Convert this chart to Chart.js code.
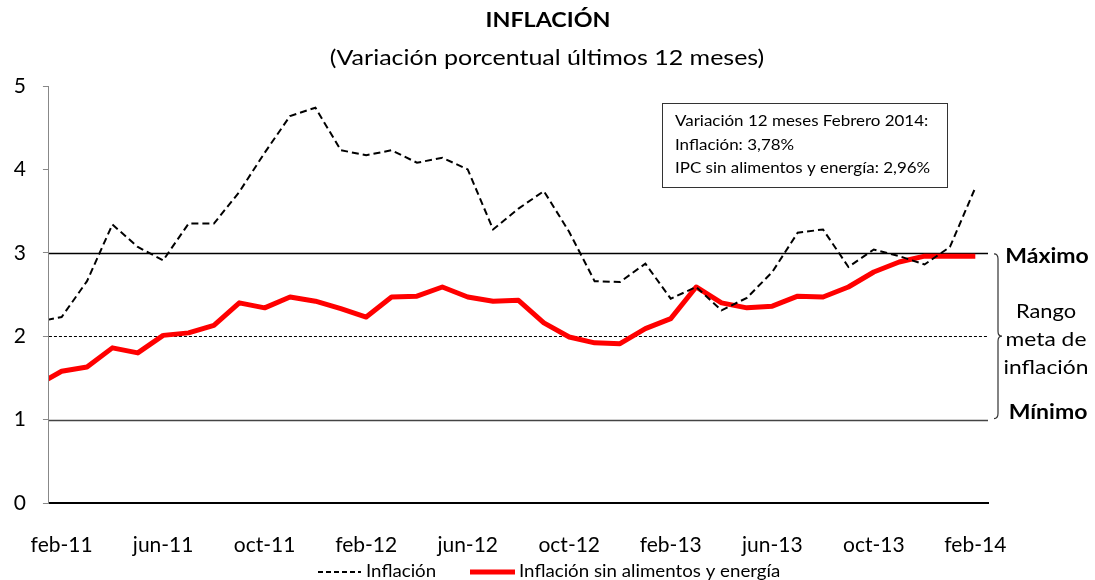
<!DOCTYPE html>
<html>
<head>
<meta charset="utf-8">
<script src="https://cdn.jsdelivr.net/npm/chart.js@4.4.1/dist/chart.umd.min.js"></script>
<style>
  html, body { margin: 0; padding: 0; background: #fff; }
  #wrap { position: relative; width: 1095px; height: 580px; }
</style>
</head>
<body>
<div id="wrap"><canvas id="c" width="1095" height="580"></canvas></div>
<script>
// Months (jan-11 is only partly visible at the left edge, as in the reference)
const months = ['jan-11','feb-11','mar-11','apr-11','may-11','jun-11','jul-11','aug-11','sep-11','oct-11','nov-11','dec-11',
  'jan-12','feb-12','mar-12','apr-12','may-12','jun-12','jul-12','aug-12','sep-12','oct-12','nov-12','dec-12',
  'jan-13','feb-13','mar-13','apr-13','may-13','jun-13','jul-13','aug-13','sep-13','oct-13','nov-13','dec-13',
  'jan-14','feb-14'];
const tickLabels = ['feb-11','jun-11','oct-11','feb-12','jun-12','oct-12','feb-13','jun-13','oct-13','feb-14'];
const inflacion = [2.17, 2.23, 2.66, 3.34, 3.07, 2.91, 3.35, 3.35, 3.73, 4.20, 4.64, 4.74,
  4.23, 4.17, 4.23, 4.08, 4.14, 4.00, 3.28, 3.53, 3.74, 3.25, 2.66, 2.65,
  2.87, 2.45, 2.59, 2.31, 2.46, 2.77, 3.24, 3.28, 2.83, 3.04, 2.96, 2.86,
  3.07, 3.78];
const inflacionSAE = [1.41, 1.58, 1.63, 1.86, 1.80, 2.01, 2.04, 2.13, 2.40, 2.34, 2.47, 2.42,
  2.33, 2.23, 2.47, 2.48, 2.59, 2.47, 2.42, 2.43, 2.16, 1.99, 1.92, 1.91,
  2.09, 2.21, 2.59, 2.40, 2.34, 2.36, 2.48, 2.47, 2.59, 2.77, 2.89, 2.96,
  2.96, 2.96];
const rangoMeta = { minimo: 1, centro: 2, maximo: 3 };
const yTicks = [0, 1, 2, 3, 4, 5];
const seriesNames = ['Inflación', 'Inflación sin alimentos y energía'];
const titleText = 'INFLACIÓN';
const subtitleText = '(Variación porcentual últimos 12 meses)';
const boxLines = ['Variación 12 meses Febrero 2014:', 'Inflación: 3,78%', 'IPC sin alimentos y energía: 2,96%'];
const rangeLabels = ['Máximo', 'Rango', 'meta de', 'inflación', 'Mínimo'];

const FONT = 'Lato, "Open Sans", sans-serif';
const firstIdx = months.indexOf('feb-11');
const toXY = arr => arr.map((v, i) => ({ x: i - firstIdx, y: v }));

// text drawn with a slight horizontal stretch (reference font is wider)
function txt(ctx, s, x, y, font, stretch, align) {
  ctx.save();
  ctx.font = font;
  ctx.textAlign = align || 'center';
  ctx.textBaseline = 'middle';
  ctx.translate(x, y);
  ctx.scale(stretch, 1);
  ctx.fillText(s, 0, 0);
  ctx.restore();
}

const decorPlugin = {
  id: 'decor',
  beforeDatasetsDraw(chart) {
    const { ctx, chartArea: a, scales: { y } } = chart;
    ctx.save();
    const lines = [
      { v: rangoMeta.maximo, color: '#000', w: 1.3, dash: [] },
      { v: rangoMeta.centro, color: '#000', w: 1, dash: [3, 2] },
      { v: rangoMeta.minimo, color: '#444', w: 1.5, dash: [] }
    ];
    lines.forEach(l => {
      const py = Math.round(y.getPixelForValue(l.v)) + 0.5;
      ctx.beginPath();
      ctx.setLineDash(l.dash);
      ctx.strokeStyle = l.color;
      ctx.lineWidth = l.w;
      ctx.moveTo(a.left, py);
      ctx.lineTo(a.right, py);
      ctx.stroke();
    });
    ctx.restore();
  },
  afterDraw(chart) {
    const { ctx, scales: { y } } = chart;
    ctx.save();
    ctx.fillStyle = '#000';
    // titles
    txt(ctx, titleText, 548, 20, 'bold 21px ' + FONT, 1.11);
    txt(ctx, subtitleText, 547, 58, '21px ' + FONT, 1.19);

    // info box
    ctx.strokeStyle = '#333';
    ctx.lineWidth = 1;
    ctx.strokeRect(662.5, 103.5, 285, 84);
    boxLines.forEach((t, i) => txt(ctx, t, 675, 121 + i * 23.5, '16px ' + FONT, 1.06, 'left'));

    // bracket
    const yTop = y.getPixelForValue(rangoMeta.maximo);
    const yBot = y.getPixelForValue(rangoMeta.minimo);
    const yMid = (yTop + yBot) / 2;
    const bx = 996;
    ctx.strokeStyle = '#333';
    ctx.lineWidth = 1.2;
    ctx.beginPath();
    ctx.moveTo(bx - 2, yTop + 1);
    ctx.quadraticCurveTo(bx + 2, yTop + 1, bx + 2, yTop + 6);
    ctx.lineTo(bx + 2, yMid - 5);
    ctx.quadraticCurveTo(bx + 2, yMid, bx + 6, yMid);
    ctx.quadraticCurveTo(bx + 2, yMid, bx + 2, yMid + 5);
    ctx.lineTo(bx + 2, yBot - 6);
    ctx.quadraticCurveTo(bx + 2, yBot - 1, bx - 2, yBot - 1);
    ctx.stroke();

    txt(ctx, rangeLabels[0], 1047, yTop + 4, 'bold 20px ' + FONT, 1.15);
    txt(ctx, rangeLabels[4], 1048, yBot - 7, 'bold 20px ' + FONT, 1.15);
    txt(ctx, rangeLabels[1], 1046, 312, '19px ' + FONT, 1.15);
    txt(ctx, rangeLabels[2], 1046, 340, '19px ' + FONT, 1.2);
    txt(ctx, rangeLabels[3], 1046, 368, '19px ' + FONT, 1.2);

    // legend
    const ly = 572;
    ctx.strokeStyle = '#000';
    ctx.lineWidth = 2;
    ctx.setLineDash([5, 3]);
    ctx.beginPath(); ctx.moveTo(318, ly); ctx.lineTo(361, ly); ctx.stroke();
    ctx.setLineDash([]);
    txt(ctx, seriesNames[0], 366, ly, '17px ' + FONT, 1.1, 'left');
    ctx.strokeStyle = '#ff0000';
    ctx.lineWidth = 5;
    ctx.beginPath(); ctx.moveTo(470, ly); ctx.lineTo(515, ly); ctx.stroke();
    txt(ctx, seriesNames[1], 519, ly, '17px ' + FONT, 1.1, 'left');
    ctx.restore();
  }
};

new Chart(document.getElementById('c'), {
  type: 'line',
  data: {
    datasets: [
      { label: seriesNames[0], data: toXY(inflacion), borderColor: '#000', borderWidth: 2,
        borderDash: [7, 4], pointRadius: 0, tension: 0, fill: false },
      { label: seriesNames[1], data: toXY(inflacionSAE), borderColor: '#ff0000', borderWidth: 5,
        pointRadius: 0, tension: 0, fill: false, borderJoinStyle: 'round' }
    ]
  },
  options: {
    responsive: false,
    animation: false,
    layout: { padding: { left: 0, right: 107, top: 86, bottom: 0 } },
    plugins: { legend: { display: false }, tooltip: { enabled: false }, title: { display: false } },
    scales: {
      x: {
        type: 'linear',
        min: -0.5,
        max: 36.5,
        afterBuildTicks: s => { s.ticks = tickLabels.map((_, i) => ({ value: i * 4 })); },
        afterFit: s => { s.height = 77; },
        ticks: {
          autoSkip: false, maxRotation: 0, padding: 30,
          color: '#000', font: { family: FONT, size: 21 },
          callback: v => tickLabels[v / 4]
        },
        grid: { drawOnChartArea: false, drawTicks: false },
        border: { display: true, color: '#000', width: 2 }
      },
      y: {
        min: 0,
        max: 5,
        afterBuildTicks: s => { s.ticks = yTicks.map(v => ({ value: v })); },
        afterFit: s => { s.width = 46; },
        ticks: { color: '#000', padding: 17, font: { family: FONT, size: 21 } },
        grid: { drawOnChartArea: false, drawTicks: true, tickLength: 6, color: '#888' },
        border: { display: true, color: '#888', width: 1 }
      }
    }
  },
  plugins: [decorPlugin]
});
</script>
</body>
</html>
